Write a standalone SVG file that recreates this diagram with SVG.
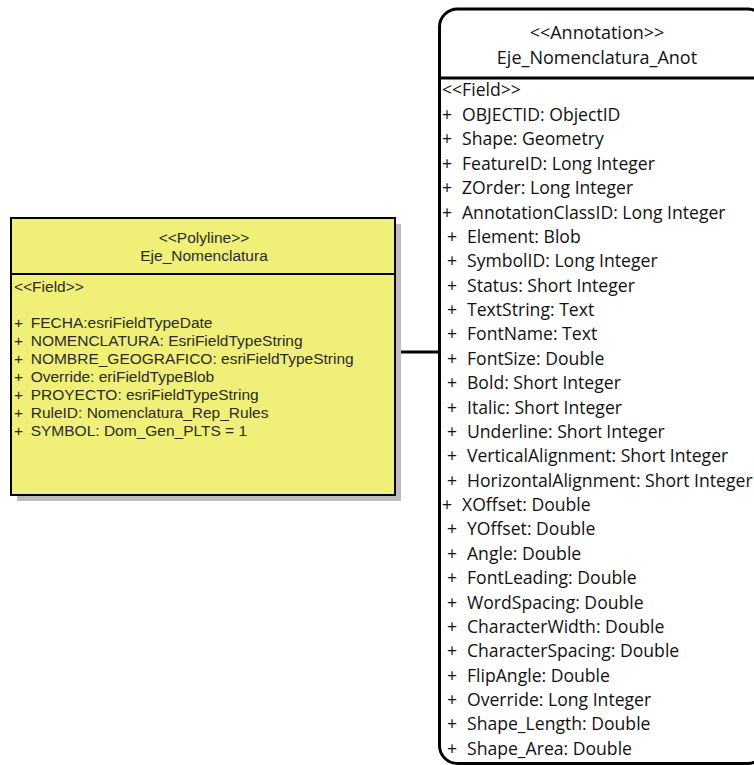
<svg xmlns="http://www.w3.org/2000/svg" width="754" height="765" viewBox="0 0 754 765">
<style>
.lt{font-family:"Liberation Sans",Arial,sans-serif;font-size:15.5px;fill:#2a2a2a}
.rt{font-family:"Open Sans","Noto Sans",sans-serif;font-size:17.6px;fill:#111}
.hd{font-size:18px}
.mid{text-anchor:middle}
</style>
<rect width="754" height="765" fill="#fff"/>
<g id="connectors">
<line x1="395" y1="352" x2="440" y2="352" stroke="#000" stroke-width="3"/>
</g>
<g id="eje_nomenclatura">
<rect x="17" y="224" width="384" height="277" fill="#bcbcbc"/>
<rect x="11" y="218" width="384" height="277" fill="#f0f078" stroke="#000" stroke-width="2"/>
<line x1="11" y1="274" x2="395" y2="274" stroke="#000" stroke-width="2"/>
<text class="lt mid" x="204" y="243.3">&lt;&lt;Polyline&gt;&gt;</text>
<text class="lt mid" x="204" y="260.7">Eje_Nomenclatura</text>
<text class="lt" x="14" y="292">&lt;&lt;Field&gt;&gt;</text>
<text class="lt" y="328.3"><tspan x="14">+</tspan><tspan x="30.7">FECHA:esriFieldTypeDate</tspan></text>
<text class="lt" y="346.2"><tspan x="14">+</tspan><tspan x="30.7">NOMENCLATURA: EsriFieldTypeString</tspan></text>
<text class="lt" y="364.1"><tspan x="14">+</tspan><tspan x="30.7">NOMBRE_GEOGRAFICO: esriFieldTypeString</tspan></text>
<text class="lt" y="382"><tspan x="14">+</tspan><tspan x="30.7">Override: eriFieldTypeBlob</tspan></text>
<text class="lt" y="399.9"><tspan x="14">+</tspan><tspan x="30.7">PROYECTO: esriFieldTypeString</tspan></text>
<text class="lt" y="417.8"><tspan x="14">+</tspan><tspan x="30.7">RuleID:  Nomenclatura_Rep_Rules</tspan></text>
<text class="lt" y="435.7"><tspan x="14">+</tspan><tspan x="30.7">SYMBOL: Dom_Gen_PLTS = 1</tspan></text>
</g>
<g id="eje_nomenclatura_anot">
<rect x="439.5" y="9" width="326" height="754.5" rx="18" ry="18" fill="#fff" stroke="#000" stroke-width="3"/>
<line x1="439.5" y1="78" x2="754" y2="78" stroke="#000" stroke-width="3"/>
<text class="rt hd mid" x="597" y="39">&lt;&lt;Annotation&gt;&gt;</text>
<text class="rt hd mid" x="597" y="63.5">Eje_Nomenclatura_Anot</text>
<text class="rt" x="442" y="96">&lt;&lt;Field&gt;&gt;</text>
<text class="rt" y="121"><tspan x="442">+</tspan><tspan x="462">OBJECTID: ObjectID</tspan></text>
<text class="rt" y="145.4"><tspan x="442">+</tspan><tspan x="462">Shape: Geometry</tspan></text>
<text class="rt" y="169.8"><tspan x="442">+</tspan><tspan x="462">FeatureID: Long Integer</tspan></text>
<text class="rt" y="194.1"><tspan x="442">+</tspan><tspan x="462">ZOrder: Long Integer</tspan></text>
<text class="rt" y="218.5"><tspan x="442">+</tspan><tspan x="462">AnnotationClassID: Long Integer</tspan></text>
<text class="rt" y="242.9"><tspan x="447">+</tspan><tspan x="467">Element: Blob</tspan></text>
<text class="rt" y="267.3"><tspan x="447">+</tspan><tspan x="467">SymbolID: Long Integer</tspan></text>
<text class="rt" y="291.6"><tspan x="447">+</tspan><tspan x="467">Status: Short Integer</tspan></text>
<text class="rt" y="316"><tspan x="447">+</tspan><tspan x="467">TextString: Text</tspan></text>
<text class="rt" y="340.4"><tspan x="447">+</tspan><tspan x="467">FontName: Text</tspan></text>
<text class="rt" y="364.8"><tspan x="447">+</tspan><tspan x="467">FontSize: Double</tspan></text>
<text class="rt" y="389.1"><tspan x="447">+</tspan><tspan x="467">Bold: Short Integer</tspan></text>
<text class="rt" y="413.5"><tspan x="447">+</tspan><tspan x="467">Italic: Short Integer</tspan></text>
<text class="rt" y="437.9"><tspan x="447">+</tspan><tspan x="467">Underline: Short Integer</tspan></text>
<text class="rt" y="462.3"><tspan x="447">+</tspan><tspan x="467">VerticalAlignment: Short Integer</tspan></text>
<text class="rt" y="486.6"><tspan x="447">+</tspan><tspan x="467">HorizontalAlignment: Short Integer</tspan></text>
<text class="rt" y="511"><tspan x="442">+</tspan><tspan x="462">XOffset: Double</tspan></text>
<text class="rt" y="535.4"><tspan x="447">+</tspan><tspan x="467">YOffset: Double</tspan></text>
<text class="rt" y="559.8"><tspan x="447">+</tspan><tspan x="467">Angle: Double</tspan></text>
<text class="rt" y="584.1"><tspan x="447">+</tspan><tspan x="467">FontLeading: Double</tspan></text>
<text class="rt" y="608.5"><tspan x="447">+</tspan><tspan x="467">WordSpacing: Double</tspan></text>
<text class="rt" y="632.9"><tspan x="447">+</tspan><tspan x="467">CharacterWidth: Double</tspan></text>
<text class="rt" y="657.3"><tspan x="447">+</tspan><tspan x="467">CharacterSpacing: Double</tspan></text>
<text class="rt" y="681.6"><tspan x="447">+</tspan><tspan x="467">FlipAngle: Double</tspan></text>
<text class="rt" y="706"><tspan x="447">+</tspan><tspan x="467">Override: Long Integer</tspan></text>
<text class="rt" y="730.4"><tspan x="447">+</tspan><tspan x="467">Shape_Length: Double</tspan></text>
<text class="rt" y="754.8"><tspan x="447">+</tspan><tspan x="467">Shape_Area: Double</tspan></text>
</g>
</svg>
